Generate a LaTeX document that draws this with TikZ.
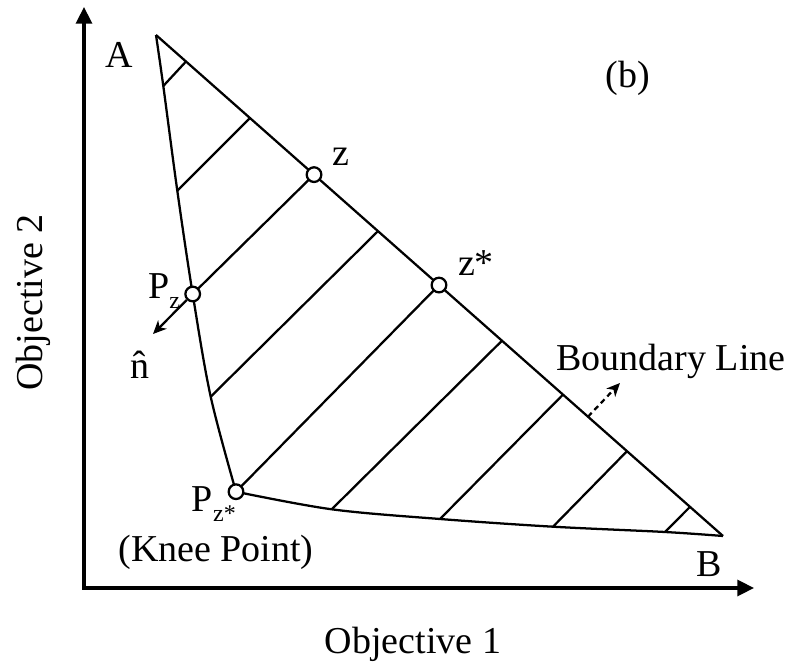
\documentclass[tikz,border=0pt]{standalone}
\usepackage{fontspec}
\setmainfont{Liberation Serif}
\usetikzlibrary{arrows.meta,calc}
\newcommand\sbx[1]{\raisebox{-7.5pt}{\fontsize{18}{18}\selectfont #1}}
\begin{document}
\begin{tikzpicture}[x=0.75pt,y=-0.75pt,
  lbl/.style={font=\fontsize{28.5}{34}\selectfont, inner sep=0pt},
  ln/.style={line width=1.7pt, line join=round},
  axisline/.style={line width=2.4pt, -{Triangle[length=12.5pt,width=12pt]}},
  dotnode/.style={circle, draw, fill=white, line width=1.7pt, minimum size=11pt, inner sep=0pt},
  arr/.style={line width=1.7pt, -{Stealth[length=10pt,width=9pt,inset=3pt]}}]
\useasboundingbox (0,0) rectangle (790,667);
% axes
\coordinate (O) at (84,588);
\coordinate (Ytip) at (84,7);
\coordinate (Xtip) at (754,588);
\draw[axisline] (O) -- (Ytip);
\draw[axisline] ($(O)+(-1.6,0)$) -- (Xtip);
% corner points
\coordinate (A) at (156,35);
\coordinate (B) at (723,536);
\coordinate (K) at (236,491.7);
\coordinate (PZ) at (192.7,294);
% left curve points
\coordinate (L1) at (163.3,86);
\coordinate (L2) at (177.3,190.7);
\coordinate (L4) at (210.7,396.7);
% bottom curve points
\coordinate (D6) at (331.7,509.3);
\coordinate (D7) at (440,519);
\coordinate (D8) at (553,526.7);
\coordinate (D9) at (665,532);
% boundary line
\draw[ln] (A) -- (B);
\draw[ln] plot[smooth, tension=0.55] coordinates {(A) (L1) (L2) (PZ) (L4) (K)};
\draw[ln] plot[smooth, tension=0.55] coordinates {(K) (D6) (D7) (D8) (D9) (B)};
% points on the boundary line
\coordinate (U1) at ($(A)!0.0529!(B)$);
\coordinate (U2) at ($(A)!0.1658!(B)$);
\coordinate (U3) at ($(A)!0.2787!(B)$);
\coordinate (U4) at ($(A)!0.3915!(B)$);
\coordinate (U5) at ($(A)!0.4991!(B)$);
\coordinate (U6) at ($(A)!0.6102!(B)$);
\coordinate (U7) at ($(A)!0.7178!(B)$);
\coordinate (U8) at ($(A)!0.8307!(B)$);
\coordinate (U9) at ($(A)!0.9418!(B)$);
% hatch lines
\draw[ln] (U1) -- (L1);
\draw[ln] (U2) -- (L2);
\draw[ln] (U3) -- (PZ);
\draw[ln] (U4) -- (L4);
\draw[ln] (U5) -- (K);
\draw[ln] (U6) -- (D6);
\draw[ln] (U7) -- (D7);
\draw[ln] (U8) -- (D8);
\draw[ln] (U9) -- (D9);
% normal arrow
\coordinate (ntip) at (153,334);
\node[dotnode] (pz) at (PZ) {};
\draw[arr] (pz) -- (ntip);
% dashed arrow
\coordinate (bl0) at ($(A)!0.7619!(B)$);
\coordinate (bl1) at (620,383);
\draw[arr, dash pattern=on 4pt off 3pt] (bl0) -- (bl1);
% circles
\node[dotnode] (z) at (U3) {};
\node[dotnode] (zs) at (U5) {};
\node[dotnode] (knee) at (K) {};
% labels
\node[lbl, anchor=base] (tA) at (119,68) {A};
\node[lbl, anchor=base] (tB) at (709,576.7) {B};
\node[lbl, anchor=base] (tb) at (628,88) {(b)};
\node[lbl, anchor=base] (tz) at (341,166) {z};
\node[lbl, anchor=base] (tzs) at (476,275) {z*};
\node[lbl, anchor=base west] (tpz) at (148,298) {P\sbx{z}};
\node[lbl, anchor=base west] (tpk) at (191.7,511.7) {P\sbx{z*}};
\node[lbl, anchor=base] (tn) at (139.5,378) {\^{n}};
\node[lbl, anchor=base] (tknee) at (216,561) {(Knee Point)};
\node[lbl, anchor=base] (tbl) at (671,370) {Boundary Line};
\node[lbl, anchor=base] (tx) at (413,653) {Objective 1};
\node[lbl, anchor=base, rotate=90] (ty) at (42,302.5) {Objective 2};
\end{tikzpicture}
\end{document}
